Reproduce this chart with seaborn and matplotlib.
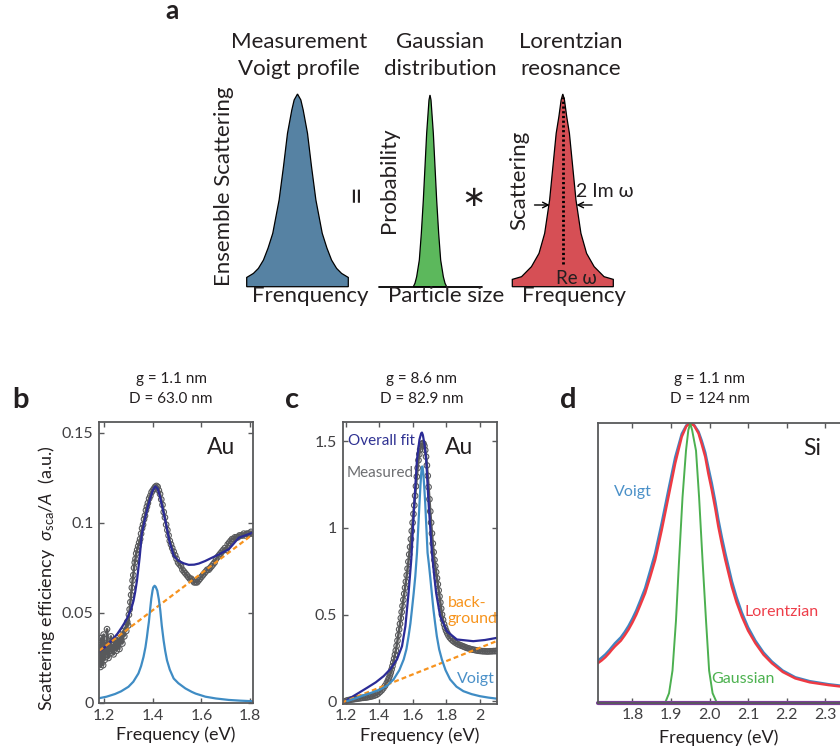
import numpy as np
import matplotlib
matplotlib.use('Agg')
import matplotlib.pyplot as plt
import seaborn as sns

# ---------------- data ----------------
# panel a: half profiles (offset / half base width, height / peak)
voigt_shape_off = [0.0, 0.066, 0.112, 0.197, 0.276, 0.362, 0.487, 0.580, 0.671, 0.770, 0.868, 1.0]
voigt_shape_h = [1.0, 0.969, 0.917, 0.796, 0.623, 0.450, 0.277, 0.200, 0.138, 0.095, 0.069, 0.048]
gauss_shape_off = [0.0, 0.06, 0.20, 0.30, 0.40, 0.52, 0.64, 0.80, 0.90, 1.0]
gauss_shape_h = [1.0, 0.974, 0.800, 0.626, 0.452, 0.278, 0.139, 0.052, 0.018, 0.0]
lorentz_shape_off = [0.0, 0.033, 0.078, 0.131, 0.196, 0.261, 0.359, 0.471, 0.621, 0.817, 1.0]
lorentz_shape_h = [1.0, 0.969, 0.882, 0.796, 0.623, 0.450, 0.277, 0.173, 0.104, 0.052, 0.038]
size_axis = [-3.04, 3.10]
re_omega_line = [0.12, 0.986]

# panel b (Au, g = 1.1 nm, D = 63.0 nm)
b_meas_f = [1.180, 1.181, 1.183, 1.185, 1.188, 1.190, 1.193, 1.196, 1.198, 1.200,
            1.203, 1.206, 1.209, 1.212, 1.215, 1.218, 1.221, 1.224, 1.228, 1.231,
            1.235, 1.239, 1.243, 1.247, 1.251, 1.255, 1.259, 1.263, 1.267, 1.271,
            1.275, 1.279, 1.283, 1.287, 1.291, 1.295, 1.299, 1.302, 1.305, 1.308,
            1.311, 1.314, 1.317, 1.320, 1.323, 1.326, 1.329, 1.332, 1.336, 1.340,
            1.344, 1.348, 1.352, 1.356, 1.360, 1.364, 1.368, 1.372, 1.376, 1.380,
            1.385, 1.390, 1.395, 1.400, 1.405, 1.410, 1.415, 1.420, 1.425, 1.430,
            1.435, 1.440, 1.445, 1.450, 1.455, 1.460, 1.465, 1.470, 1.475, 1.480,
            1.486, 1.492, 1.498, 1.504, 1.510, 1.516, 1.522, 1.528, 1.534, 1.540,
            1.546, 1.552, 1.558, 1.564, 1.570, 1.576, 1.582, 1.588, 1.594, 1.600,
            1.606, 1.612, 1.618, 1.624, 1.630, 1.636, 1.642, 1.648, 1.654, 1.660,
            1.666, 1.672, 1.678, 1.684, 1.690, 1.696, 1.702, 1.708, 1.714, 1.720,
            1.726, 1.732, 1.738, 1.744, 1.750, 1.756, 1.762, 1.768, 1.774, 1.780,
            1.786, 1.792, 1.798, 1.804, 1.810]
b_meas_v = [0.027, 0.022, 0.032, 0.020, 0.036, 0.025, 0.029, 0.021, 0.038, 0.031,
            0.024, 0.033, 0.027, 0.041, 0.030, 0.025, 0.034, 0.029, 0.037, 0.028,
            0.032, 0.027, 0.035, 0.031, 0.029, 0.036, 0.033, 0.030, 0.038, 0.035,
            0.033, 0.040, 0.037, 0.042, 0.040, 0.045, 0.043, 0.049, 0.052, 0.056,
            0.060, 0.064, 0.068, 0.071, 0.075, 0.078, 0.080, 0.083, 0.085, 0.087,
            0.089, 0.091, 0.094, 0.097, 0.099, 0.102, 0.104, 0.107, 0.109, 0.111,
            0.1135, 0.115, 0.117, 0.118, 0.119, 0.120, 0.1205, 0.120, 0.118, 0.116,
            0.113, 0.110, 0.106, 0.103, 0.099, 0.096, 0.093, 0.090, 0.088, 0.086,
            0.084, 0.082, 0.080, 0.078, 0.077, 0.076, 0.074, 0.073, 0.072, 0.071,
            0.070, 0.069, 0.069, 0.068, 0.067, 0.067, 0.067, 0.068, 0.069, 0.070,
            0.071, 0.072, 0.073, 0.074, 0.074, 0.075, 0.076, 0.077, 0.078, 0.080,
            0.081, 0.082, 0.083, 0.084, 0.085, 0.086, 0.085, 0.088, 0.089, 0.090,
            0.091, 0.091, 0.092, 0.092, 0.092, 0.093, 0.093, 0.093, 0.094, 0.093,
            0.094, 0.094, 0.094, 0.095, 0.094]
b_fit_f = [1.177, 1.205, 1.232, 1.255, 1.273, 1.290, 1.300, 1.312, 1.321, 1.328, 1.335,
           1.346, 1.355, 1.369, 1.380, 1.390, 1.400, 1.410, 1.420, 1.431, 1.442, 1.452,
           1.468, 1.486, 1.506, 1.528, 1.548, 1.570, 1.589, 1.615, 1.644, 1.680, 1.713,
           1.754, 1.810]
b_fit_v = [0.0283, 0.0312, 0.0348, 0.0385, 0.0421, 0.0458, 0.0486, 0.0525, 0.0568, 0.0618,
           0.0679, 0.0807, 0.0937, 0.1028, 0.1090, 0.1138, 0.1180, 0.1203, 0.1190, 0.1138,
           0.1070, 0.1010, 0.0900, 0.0817, 0.0789, 0.0775, 0.0767, 0.0768, 0.0774, 0.0788,
           0.0807, 0.0830, 0.0854, 0.0918, 0.0945]
b_bg_f = [1.18, 1.81]
b_bg_v = [0.029, 0.0935]
b_lor_f = [1.177, 1.210, 1.245, 1.270, 1.300, 1.320, 1.341, 1.352, 1.362, 1.370,
           1.376, 1.380, 1.384, 1.387, 1.390, 1.394, 1.399, 1.402, 1.4075, 1.412,
           1.4185, 1.425, 1.431, 1.437, 1.4445, 1.451, 1.4585, 1.470, 1.486, 1.505,
           1.534, 1.560, 1.5765, 1.6165, 1.660, 1.7125, 1.760, 1.809]
b_lor_v = [0.0026, 0.0035, 0.0050, 0.0065, 0.0090, 0.0118, 0.0164, 0.0205, 0.0256, 0.0310,
           0.0366, 0.0410, 0.0450, 0.0490, 0.0530, 0.0580, 0.0624, 0.0642, 0.0651, 0.0645,
           0.0624, 0.0575, 0.0513, 0.0430, 0.0348, 0.0290, 0.0237, 0.0185, 0.0136, 0.0110,
           0.0081, 0.0062, 0.0052, 0.0035, 0.0025, 0.0017, 0.0013, 0.0010]

# panel c (Au, g = 8.6 nm, D = 82.9 nm)
c_meas_f = [1.185, 1.195, 1.205, 1.215, 1.225, 1.235, 1.245, 1.255, 1.265, 1.275,
            1.285, 1.295, 1.305, 1.315, 1.325, 1.335, 1.345, 1.355, 1.365, 1.375,
            1.385, 1.395, 1.405, 1.415, 1.425, 1.435, 1.445, 1.452, 1.458, 1.464,
            1.469, 1.474, 1.479, 1.484, 1.489, 1.494, 1.499, 1.504, 1.509, 1.514,
            1.519, 1.524, 1.529, 1.534, 1.539, 1.544, 1.549, 1.554, 1.559, 1.564,
            1.569, 1.574, 1.579, 1.584, 1.589, 1.594, 1.599, 1.604, 1.609, 1.614,
            1.619, 1.624, 1.629, 1.634, 1.639, 1.644, 1.649, 1.654, 1.659, 1.664,
            1.669, 1.674, 1.679, 1.684, 1.689, 1.694, 1.699, 1.704, 1.709, 1.714,
            1.719, 1.724, 1.729, 1.734, 1.739, 1.744, 1.749, 1.754, 1.759, 1.764,
            1.769, 1.774, 1.780, 1.786, 1.792, 1.798, 1.805, 1.812, 1.820, 1.830,
            1.840, 1.850, 1.860, 1.870, 1.880, 1.890, 1.900, 1.910, 1.920, 1.930,
            1.940, 1.950, 1.960, 1.970, 1.980, 1.990, 2.000, 2.010, 2.020, 2.030,
            2.040, 2.050, 2.060, 2.070, 2.080, 2.090, 2.098]
c_meas_v = [-0.005, 0.000, 0.004, 0.007, 0.009, 0.011, 0.012, 0.014, 0.015, 0.017,
            0.018, 0.020, 0.021, 0.022, 0.023, 0.025, 0.027, 0.029, 0.032, 0.035,
            0.039, 0.046, 0.055, 0.064, 0.076, 0.090, 0.106, 0.120, 0.134, 0.150,
            0.166, 0.184, 0.203, 0.224, 0.246, 0.269, 0.293, 0.320, 0.350, 0.382,
            0.415, 0.447, 0.480, 0.515, 0.550, 0.585, 0.620, 0.655, 0.690, 0.727,
            0.765, 0.805, 0.847, 0.890, 0.935, 0.982, 1.030, 1.080, 1.130, 1.185,
            1.240, 1.295, 1.345, 1.390, 1.425, 1.452, 1.470, 1.482, 1.488, 1.485,
            1.472, 1.448, 1.410, 1.360, 1.300, 1.235, 1.165, 1.095, 1.030, 0.968,
            0.910, 0.860, 0.815, 0.780, 0.745, 0.710, 0.675, 0.640, 0.605, 0.570,
            0.535, 0.500, 0.470, 0.445, 0.425, 0.408, 0.393, 0.380, 0.368, 0.357,
            0.348, 0.341, 0.335, 0.329, 0.325, 0.321, 0.317, 0.313, 0.309, 0.306,
            0.303, 0.300, 0.298, 0.296, 0.294, 0.292, 0.291, 0.290, 0.289, 0.289,
            0.288, 0.288, 0.289, 0.289, 0.290, 0.290, 0.291]
c_fit_f = [1.186, 1.230, 1.280, 1.329, 1.380, 1.427, 1.470, 1.506, 1.536, 1.556, 1.575,
           1.591, 1.609, 1.625, 1.640, 1.650, 1.6545, 1.660, 1.670, 1.680, 1.694, 1.714,
           1.728, 1.739, 1.763, 1.803, 1.862, 1.960, 2.030, 2.099]
c_fit_v = [-0.007, 0.021, 0.050, 0.079, 0.110, 0.146, 0.190, 0.242, 0.318, 0.433, 0.625,
           0.817, 1.143, 1.392, 1.510, 1.545, 1.549, 1.535, 1.480, 1.392, 1.143, 0.856,
           0.720, 0.625, 0.491, 0.404, 0.357, 0.347, 0.354, 0.366]
c_bg_f = [1.18, 2.10]
c_bg_v = [-0.006, 0.348]
c_voigt_f = [1.210, 1.260, 1.308, 1.360, 1.407, 1.450, 1.486, 1.520, 1.546, 1.562,
             1.575, 1.586, 1.595, 1.605, 1.615, 1.625, 1.632, 1.640, 1.646, 1.650,
             1.653, 1.656, 1.659, 1.663, 1.668, 1.674, 1.681, 1.688, 1.696, 1.704,
             1.713, 1.723, 1.733, 1.743, 1.757, 1.773, 1.795, 1.822, 1.860, 1.901,
             1.950, 2.000, 2.050, 2.099]
c_voigt_v = [0.002, 0.018, 0.035, 0.052, 0.069, 0.093, 0.127, 0.180, 0.242, 0.300,
             0.376, 0.450, 0.529, 0.620, 0.721, 0.856, 0.990, 1.143, 1.250, 1.310,
             1.340, 1.354, 1.345, 1.310, 1.240, 1.143, 1.000, 0.856, 0.790, 0.715,
             0.625, 0.529, 0.450, 0.376, 0.300, 0.242, 0.180, 0.127, 0.085, 0.059,
             0.042, 0.030, 0.022, 0.016]

# panel d (Si, g = 1.1 nm, D = 124 nm), normalised
d_f = [1.710, 1.720, 1.730, 1.740, 1.7465, 1.755, 1.770, 1.780, 1.790, 1.800,
       1.810, 1.820, 1.833, 1.846, 1.859, 1.876, 1.8935, 1.911, 1.928, 1.940,
       1.950, 1.960, 1.9715, 1.980, 1.989, 1.997, 2.006, 2.015, 2.023, 2.032,
       2.041, 2.050, 2.058, 2.070, 2.084, 2.100, 2.119, 2.140, 2.162, 2.190,
       2.2225, 2.260, 2.309, 2.340, 2.400, 2.450]
d_lorentz = [0.141, 0.151, 0.163, 0.178, 0.189, 0.202, 0.222, 0.241, 0.262, 0.287,
             0.315, 0.348, 0.392, 0.450, 0.511, 0.618, 0.737, 0.857, 0.952, 0.990,
             1.000, 0.992, 0.964, 0.925, 0.880, 0.820, 0.761, 0.695, 0.630, 0.568,
             0.511, 0.460, 0.415, 0.360, 0.308, 0.258, 0.213, 0.172, 0.141, 0.110,
             0.087, 0.073, 0.063, 0.058, 0.052, 0.048]
d_voigt = [0.150, 0.161, 0.173, 0.188, 0.199, 0.213, 0.234, 0.253, 0.275, 0.301,
           0.330, 0.364, 0.410, 0.472, 0.535, 0.643, 0.762, 0.878, 0.962, 0.993,
           1.000, 0.994, 0.970, 0.937, 0.895, 0.842, 0.785, 0.720, 0.655, 0.592,
           0.535, 0.482, 0.435, 0.378, 0.322, 0.270, 0.222, 0.180, 0.147, 0.115,
           0.091, 0.077, 0.066, 0.061, 0.055, 0.051]
d_gauss_f = [1.885, 1.895, 1.904, 1.913, 1.921, 1.930, 1.939, 1.945, 1.950, 1.955, 1.965,
             1.973, 1.982, 1.991, 1.999, 2.008, 2.019]
d_gauss = [0.0, 0.034, 0.115, 0.293, 0.508, 0.735, 0.902, 0.975, 1.0, 0.975, 0.902,
           0.735, 0.508, 0.293, 0.115, 0.034, 0.0]
d_base_f = [1.71, 2.45]
d_base = [0.0, 0.0]

# ---------------- style ----------------
sns.set_theme(style='ticks')
plt.rcParams['font.family'] = ['Lato', 'DejaVu Sans']
plt.rcParams['mathtext.fontset'] = 'custom'
plt.rcParams['mathtext.rm'] = 'Lato'
plt.rcParams['mathtext.it'] = 'Lato:italic'

INK = '#231f20'
SPINE = '#58595b'
W, H = 840, 753

fig = plt.figure(figsize=(W / 100, H / 100), dpi=100)


def px_ax(x0, y0, x1, y1):
    return fig.add_axes([x0 / W, 1 - y1 / H, (x1 - x0) / W, (y1 - y0) / H])


def ftext(x, y, s, **kw):
    kw.setdefault('color', INK)
    fig.text(x / W, 1 - y / H, s, **kw)


# ---------------- panel a ----------------
def shape_axes(box, off, h, color, xlim=(-1, 1)):
    ax = px_ax(*box)
    xs = [-o for o in off[::-1]] + list(off[1:])
    ys = list(h[::-1]) + list(h[1:])
    xs = [xs[0]] + xs + [xs[-1]]
    ys = [0.0] + ys + [0.0]
    ax.fill(xs, ys, facecolor=color, edgecolor='black', lw=0.9, clip_on=False)
    ax.set_xlim(*xlim)
    ax.set_ylim(0, 1)
    ax.axis('off')
    return ax


ax_v = shape_axes((246.7, 94, 348.3, 286.7), voigt_shape_off, voigt_shape_h, '#5682a3')
ax_g = shape_axes((379.3, 95, 481.7, 286.7), gauss_shape_off, gauss_shape_h, '#5cb85c',
                  xlim=tuple(size_axis))
ax_g.plot(size_axis, [0, 0], color='black', lw=1.3, clip_on=False)
ax_l = shape_axes((512.3, 94, 613.3, 286.7), lorentz_shape_off, lorentz_shape_h, '#d64f55')
ax_l.plot([0, 0], re_omega_line, color='black', lw=2.0, ls=(0, (0.8, 0.9)), clip_on=False)
arrow = dict(arrowstyle='->', lw=1.0, color='black', shrinkA=0, shrinkB=0,
             mutation_scale=10)
ax_l.annotate('', xy=(-0.26, 0.424), xytext=(-0.56, 0.424), arrowprops=arrow,
              annotation_clip=False)
ax_l.annotate('', xy=(0.27, 0.424), xytext=(0.58, 0.424), arrowprops=arrow,
              annotation_clip=False)

ftext(172, 19, 'a', fontsize=19, fontweight='bold', ha='center', va='baseline')
for x, top, bottom in [(299, 'Measurement', 'Voigt profile'),
                       (440, 'Gaussian', 'distribution'),
                       (571, 'Lorentzian', 'reosnance')]:
    ftext(x, 47.7, top, fontsize=16, ha='center', va='baseline')
    ftext(x, 75, bottom, fontsize=16, ha='center', va='baseline')
ftext(310, 301.7, 'Frenquency', fontsize=16, ha='center', va='baseline')
ftext(446, 301.7, 'Particle size', fontsize=16, ha='center', va='baseline')
ftext(574, 301.7, 'Frequency', fontsize=16, ha='center', va='baseline')
ftext(224, 186, 'Ensemble Scattering', fontsize=16, rotation=90, ha='center', va='center')
ftext(389, 180, 'Probability', fontsize=16, rotation=90, ha='center', va='center')
ftext(519, 180, 'Scattering', fontsize=16, rotation=90, ha='center', va='center')
ftext(357, 193, '=', fontsize=22, rotation=90, ha='center', va='center',
      rotation_mode='anchor')
ftext(473, 198, '∗', fontsize=21, ha='center', va='center', family='DejaVu Sans')
ftext(576, 196.7, '2 Im ω', fontsize=14, ha='left', va='baseline')
ftext(576, 284, 'Re ω', fontsize=13.5, ha='center', va='baseline')


# ---------------- panels b, c, d ----------------
def frame(ax, left=True):
    for s in ax.spines.values():
        s.set_color(SPINE)
        s.set_linewidth(1.3)
    ax.tick_params(direction='in', length=3.5, width=1.0, color=SPINE,
                   labelsize=11.5, labelcolor='#414042', pad=4,
                   top=True, right=left, left=left, labelleft=left)
    ax.set_xlabel('Frequency (eV)', fontsize=13, color=INK, labelpad=3)


meas_style = dict(marker='o', s=16, facecolor='none', edgecolor='#58595b',
                  linewidth=0.8, legend=False)


def measured(ax, f, v):
    sns.lineplot(x=f, y=v, ax=ax, color='#58595b', lw=1.8, sort=False)
    sns.scatterplot(x=f, y=v, ax=ax, **meas_style)


# b
ax_b = px_ax(99, 422, 253, 703)
measured(ax_b, b_meas_f, b_meas_v)
sns.lineplot(x=b_fit_f, y=b_fit_v, ax=ax_b, color='#2b2b96', lw=1.6, sort=False)
sns.lineplot(x=b_bg_f, y=b_bg_v, ax=ax_b, color='#f7931e', lw=1.6)
ax_b.lines[-1].set_dashes((2.2, 1.4))
sns.lineplot(x=b_lor_f, y=b_lor_v, ax=ax_b, color='#3f8cc4', lw=1.6, sort=False)
ax_b.set_xlim(1.179, 1.812)
ax_b.set_ylim(0, 0.156)
ax_b.set_xticks([1.2, 1.4, 1.6, 1.8], ['1.2', '1.4', '1.6', '1.8'])
ax_b.set_yticks([0, 0.05, 0.1, 0.15], ['0', '0.05', '0.1', '0.15'])
frame(ax_b)
ax_b.set_ylabel(r'Scattering efficiency  $\sigma_{\mathrm{sca}}/A$  (a.u.)',
                fontsize=13, color=INK)
ax_b.yaxis.set_label_coords(-0.27, 0.445)
ax_b.text(0.70, 0.885, 'Au', transform=ax_b.transAxes, fontsize=16.5, color=INK)

# c
ax_c = px_ax(342.5, 422, 497, 703.5)
measured(ax_c, c_meas_f, c_meas_v)
sns.lineplot(x=c_fit_f, y=c_fit_v, ax=ax_c, color='#2b2b96', lw=1.6, sort=False)
sns.lineplot(x=c_bg_f, y=c_bg_v, ax=ax_c, color='#f7931e', lw=1.6)
ax_c.lines[-1].set_dashes((2.2, 1.4))
sns.lineplot(x=c_voigt_f, y=c_voigt_v, ax=ax_c, color='#3f8cc4', lw=1.6, sort=False)
ax_c.set_xlim(1.182, 2.101)
ax_c.set_ylim(-0.012, 1.61)
ax_c.set_xticks([1.2, 1.4, 1.6, 1.8, 2.0], ['1.2', '1.4', '1.6', '1.8', '2'])
ax_c.set_yticks([0, 0.5, 1, 1.5], ['0', '0.5', '1', '1.5'])
frame(ax_c)
ax_c.set_ylabel('')
ax_c.text(0.665, 0.885, 'Au', transform=ax_c.transAxes, fontsize=16.5, color=INK)
ftext(348, 445, 'Overall fit', fontsize=11, color='#2e3192', va='baseline')
ftext(347, 476.7, 'Measured', fontsize=11, color='#6d6e71', va='baseline')
ftext(448, 606.7, 'back-', fontsize=11.5, color='#f7941d', va='baseline')
ftext(448, 623.3, 'ground', fontsize=11.5, color='#f7941d', va='baseline')
ftext(457, 683.3, 'Voigt', fontsize=11.5, color='#4a90c8', va='baseline')

# d
ax_d = px_ax(597.7, 423.3, 883, 702.7)
sns.lineplot(x=d_f, y=d_voigt, ax=ax_d, color='#3f85c2', lw=1.8, sort=False)
sns.lineplot(x=d_f, y=d_lorentz, ax=ax_d, color='#ee3a43', lw=1.8, sort=False)
sns.lineplot(x=d_gauss_f, y=d_gauss, ax=ax_d, color='#4cb050', lw=1.4, sort=False)
sns.lineplot(x=d_base_f, y=d_base, ax=ax_d, color='#7b3f98', lw=3.0, clip_on=False)
ax_d.set_xlim(1.71, 2.45)
ax_d.set_ylim(0, 1.0)
ax_d.set_xticks([1.8, 1.9, 2.0, 2.1, 2.2, 2.3],
                ['1.8', '1.9', '2.0', '2.1', '2.2', '2.3'])
ax_d.set_yticks([])
frame(ax_d, left=False)
ax_d.spines['left'].set_visible(True)
ax_d.set_ylabel('')
ax_d.xaxis.set_label_coords(0.425, -0.095)
ftext(803, 455, 'Si', fontsize=16.5, va='baseline')
ftext(614, 496, 'Voigt', fontsize=11.5, color='#4a90c8', va='baseline')
ftext(745, 616, 'Lorentzian', fontsize=11.5, color='#ee3e4a', va='baseline')
ftext(711, 683.3, 'Gaussian', fontsize=11.5, color='#4db250', va='baseline')

# titles and panel letters
for x, g, d in [(171, 'g = 1.1 nm', 'D = 63.0 nm'),
                (422, 'g = 8.6 nm', 'D = 82.9 nm'),
                (710, 'g = 1.1 nm', 'D = 124 nm')]:
    ftext(x, 382.7, g, fontsize=11, ha='center', va='baseline')
    ftext(x, 403.3, d, fontsize=11, ha='center', va='baseline')
for x, letter in [(12.5, 'b'), (285, 'c'), (560, 'd')]:
    ftext(x, 408.5, letter, fontsize=21, fontweight='bold', va='baseline')

fig.savefig('out.png', dpi=100)
